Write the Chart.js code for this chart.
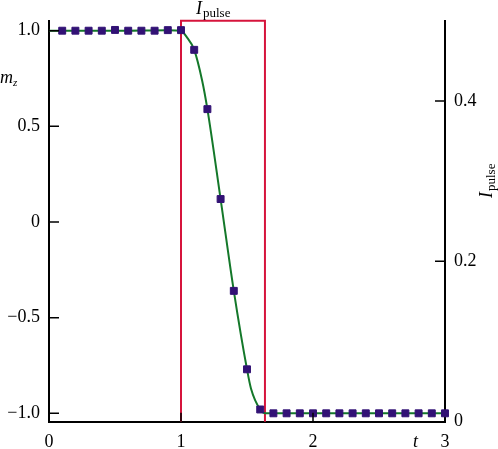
<!DOCTYPE html>
<html><head><meta charset="utf-8">
<script src="https://cdn.jsdelivr.net/npm/chart.js@4.4.0/dist/chart.umd.min.js"></script>
<style>html,body{margin:0;padding:0;background:#fff}</style>
</head><body>
<canvas id="c" width="498" height="449" style="width:498px;height:449px;display:block"></canvas>
<script>
// ---- data ----
const markerT  = [0.1,0.2,0.3,0.4,0.5,0.6,0.7,0.8,0.9,1.0,
                  1.1,1.2,1.3,1.4,1.5,1.6,
                  1.7,1.8,1.9,2.0,2.1,2.2,2.3,2.4,2.5,2.6,2.7,2.8,2.9,3.0];
const markerMz = [1.0,1.0,1.0,1.0,1.004,1.0,1.0,1.0,1.003,1.003,
                  0.90,0.59,0.12,-0.36,-0.77,-0.98,
                  -1.0,-1.0,-1.0,-1.0,-1.0,-1.0,-1.0,-1.0,-1.0,-1.0,-1.0,-1.0,-1.0,-1.0];
const lineT    = [0, 0.5, 0.9, 1.0, 1.04, 1.1, 1.16, 1.2, 1.3, 1.4, 1.5, 1.53, 1.6, 1.64, 2.0, 3.0];
const lineMz   = [1.0, 1.0, 1.003, 1.0, 0.97, 0.90, 0.74, 0.59, 0.12, -0.36, -0.77, -0.87, -0.98, -1.0, -1.0, -1.0];
const pulseT   = [1.0, 1.0, 1.636, 1.636];
const pulseI   = [0, 0.5, 0.5, 0];

const xTicks = [0, 1, 2, 3];
const xTickLabels = ["0", "1", "2", "3"];
const mzTicks = [-1, -0.5, 0, 0.5, 1];
const mzTickLabels = ["\u22121.0", "\u22120.5", "0", "0.5", "1.0"];
const iTicks = [0, 0.2, 0.4];
const iTickLabels = ["0", "0.2", "0.4"];

const SERIF = "'Liberation Serif', 'DejaVu Serif', serif";
const tickFont = {family: SERIF, size: 18};

function pts(xs, ys) { return xs.map((x, i) => ({x: x, y: ys[i]})); }
function labelFrom(ticks, labels) { return v => { const i = ticks.findIndex(t => Math.abs(t - v) < 1e-9); return i >= 0 ? labels[i] : ''; }; }

const decor = {
  id: 'decor',
  afterDatasetsDraw(chart) {
    const ctx = chart.ctx, x = chart.scales.x, y = chart.scales.y, y2 = chart.scales.y2;
    const a = chart.chartArea;
    ctx.save();
    ctx.strokeStyle = '#000';
    ctx.lineWidth = 1.5;
    ctx.beginPath();
    mzTicks.forEach(v => { const p = y.getPixelForValue(v); ctx.moveTo(a.left, p); ctx.lineTo(a.left + 10, p); });
    iTicks.slice(1).forEach(v => { const p = y2.getPixelForValue(v); ctx.moveTo(a.right, p); ctx.lineTo(a.right - 10, p); });
    xTicks.slice(1, -1).forEach(v => { const p = x.getPixelForValue(v); ctx.moveTo(p, a.bottom); ctx.lineTo(p, a.bottom - 9); });
    ctx.stroke();

    ctx.fillStyle = '#000';
    ctx.textBaseline = 'alphabetic';
    ctx.textAlign = 'left';
    // m_z
    ctx.font = 'italic 18px ' + SERIF;
    ctx.fillText('m', 0, 83);
    const mw = ctx.measureText('m').width;
    ctx.font = 'italic 11px ' + SERIF;
    ctx.fillText('z', mw, 86);
    // t
    ctx.font = 'italic 18px ' + SERIF;
    ctx.fillText('t', 413, 447);
    // top I_pulse
    ctx.font = 'italic 18px ' + SERIF;
    ctx.fillText('I', 196, 14);
    const iw = ctx.measureText('I').width;
    ctx.font = '13px ' + SERIF;
    ctx.fillText('pulse', 196 + iw + 1, 17);
    // right I_pulse rotated
    ctx.translate(492, 198);
    ctx.rotate(-Math.PI / 2);
    ctx.font = 'italic 18px ' + SERIF;
    ctx.fillText('I', 0, 0);
    ctx.font = '13px ' + SERIF;
    ctx.fillText('pulse', iw + 1, 3);
    ctx.restore();
  }
};

new Chart(document.getElementById('c'), {
  type: 'scatter',
  data: {
    datasets: [
      {
        data: pts(markerT, markerMz), yAxisID: 'y', showLine: false,
        pointStyle: 'rect', pointRadius: 4.9, pointBorderWidth: 1,
        backgroundColor: '#321275', borderColor: '#321275', clip: false
      },
      {
        data: pts(lineT, lineMz), yAxisID: 'y', showLine: true,
        borderColor: '#14782a', borderWidth: 2, pointRadius: 0,
        cubicInterpolationMode: 'monotone', clip: false
      },
      {
        data: pts(pulseT, pulseI), yAxisID: 'y2', showLine: true,
        borderColor: '#d6143c', borderWidth: 2, pointRadius: 0, tension: 0, clip: false
      }
    ]
  },
  options: {
    responsive: false, animation: false, devicePixelRatio: 1,
    layout: {padding: {top: 20.7, left: 0, right: 0, bottom: 0}},
    plugins: {legend: {display: false}, tooltip: {enabled: false}},
    scales: {
      x: {
        type: 'linear', position: 'bottom', min: 0, max: 3,
        afterBuildTicks: s => { s.ticks = xTicks.map(v => ({value: v})); },
        afterFit: s => { s.height = 27.3; },
        grid: {display: false, drawTicks: false},
        border: {display: true, color: '#000', width: 2},
        ticks: {font: tickFont, color: '#000', padding: 10, maxRotation: 0, autoSkip: false,
                callback: labelFrom(xTicks, xTickLabels)}
      },
      y: {
        type: 'linear', position: 'left', min: -1.0439, max: 1.0523,
        afterBuildTicks: s => { s.ticks = mzTicks.map(v => ({value: v})); },
        afterFit: s => { s.width = 49; },
        grid: {display: false, drawTicks: false},
        border: {display: true, color: '#000', width: 2},
        ticks: {font: tickFont, color: '#000', padding: 9, autoSkip: false,
                callback: labelFrom(mzTicks, mzTickLabels)}
      },
      y2: {
        type: 'linear', position: 'right', min: 0, max: 0.5,
        afterBuildTicks: s => { s.ticks = iTicks.map(v => ({value: v})); },
        afterFit: s => { s.width = 53; },
        grid: {display: false, drawTicks: false},
        border: {display: true, color: '#000', width: 2},
        ticks: {font: tickFont, color: '#000', padding: 9, autoSkip: false,
                callback: labelFrom(iTicks, iTickLabels)}
      }
    }
  },
  plugins: [decor]
});
</script>
</body></html>
